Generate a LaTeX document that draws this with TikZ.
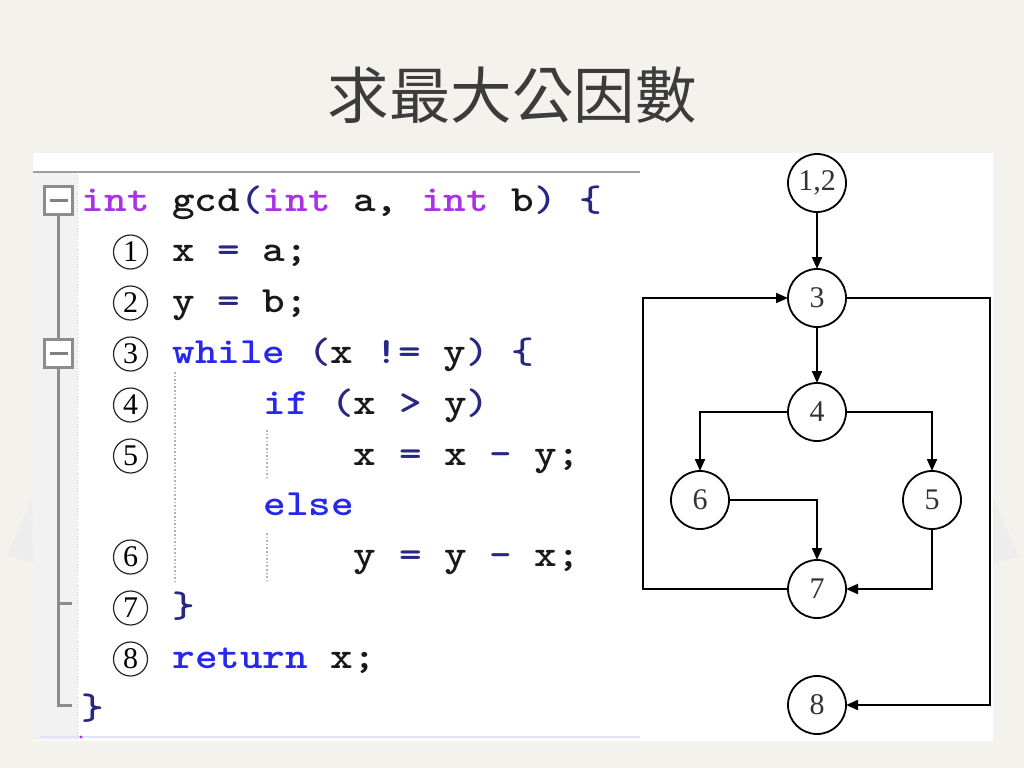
\documentclass[tikz,border=0pt]{standalone}
\usepackage{fontspec}
\newfontfamily\cjk{Noto Sans CJK TC}
\newfontfamily\numfont{Liberation Serif}
\newfontfamily\codefont{lmmonolt10-bold.otf}[FakeStretch=1.164]
\usetikzlibrary{arrows.meta, positioning}

\definecolor{bgcol}{RGB}{243,242,237}
\definecolor{guttercol}{RGB}{242,242,242}
\definecolor{kwblue}{RGB}{40,40,235}
\definecolor{typurple}{RGB}{170,50,230}
\definecolor{opnavy}{RGB}{40,40,130}
\definecolor{titlegray}{RGB}{60,60,60}
\definecolor{lavender}{RGB}{225,225,245}

\newcommand{\kw}[1]{\textcolor{kwblue}{#1}}
\newcommand{\ty}[1]{\textcolor{typurple}{#1}}
\newcommand{\op}[1]{\textcolor{opnavy}{#1}}

\begin{document}
\begin{tikzpicture}[x=1pt, y=-1pt, thick, >={Triangle[length=12pt,width=10pt]},
                    code/.style={anchor=base west, inner sep=0pt, text=black!90,
                                 font=\codefont\fontsize{37}{40}\selectfont},
                    numc/.style={circle, draw=black!85, line width=1.2pt, minimum size=34pt,
                                 inner sep=0pt, font=\numfont\fontsize{30}{30}\selectfont},
                    gnode/.style={circle, draw, line width=1.8pt, minimum size=58pt,
                                  inner sep=0pt, outer sep=0pt, text=black!80,
                                  font=\numfont\fontsize{30}{30}\selectfont},
                    foldbox/.style={rectangle, draw=black!45, line width=2.5pt, fill=white,
                                    minimum size=28pt, inner sep=0pt,
                                    path picture={\draw[line width=3pt, black!50]
                                      ([xshift=-9pt]path picture bounding box.center) --
                                      ([xshift=9pt]path picture bounding box.center);}},
                    foldline/.style={line width=3pt, black!45},
                    guide/.style={dotted, line width=1.6pt, gray!60},
                    flow/.style={->, line width=2pt}]

% Background
\useasboundingbox (0,0) rectangle (1024,768);
\fill[bgcol] (0,0) rectangle (1024,768);
\fill[black!7] (32,497) -- (7,556) -- (33,563) -- cycle;
\fill[black!7] (993,497) -- (1019,557) -- (993,563) -- cycle;
\fill[white] (33,153) rectangle (993,741);

% Title
\node (title) [anchor=base, font=\cjk\fontsize{61.5}{62}\selectfont, text=titlegray]
  at (512,118) {求最大公因數};

% Editor gutter
\fill[guttercol] (33,172) rectangle (77,740);
\draw[dotted, gray!40] (77,172) -- (77,740);
\draw[line width=2pt, gray!75] (33,172) -- (640,172);
\draw[line width=2pt, lavender] (40,737) -- (640,737);
\fill[typurple] (81,737) circle (1.6);

\node (fold1) [foldbox] at (58.5,200.5) {};
\node (fold2) [foldbox] at (58.5,353.5) {};
\coordinate (tick1) at (72,603);
\coordinate (tick2) at (72,705);
\draw[foldline] (fold1) -- (fold2);
\draw[foldline] (fold2) -- (58.5,705) -- (tick2);
\draw[foldline] (58.5,603) -- (tick1);

% Indent guides
\draw[guide] (175,372) -- (175,582);
\draw[guide] (267,430) -- (267,480);
\draw[guide] (267,533) -- (267,582);

% Code
\node (l1)  [code] at (81.5,211) {\ty{int} gcd\op{(}\ty{int} a, \ty{int} b\op{)} \op{\{}};
\node (l2)  [code] at (172,261) {x \op{=} a;};
\node (l3)  [code] at (172,312) {y \op{=} b;};
\node (l4)  [code] at (172,363) {\kw{while} \op{(}x \op{!=} y\op{)} \op{\{}};
\node (l5)  [code] at (263,414) {\kw{if} \op{(}x \op{>} y\op{)}};
\node (l6)  [code] at (353.5,465) {x \op{=} x \op{-} y;};
\node (l7)  [code] at (263,515) {\kw{else}};
\node (l8)  [code] at (353.5,566) {y \op{=} y \op{-} x;};
\node (l9)  [code] at (172,617) {\op{\}}};
\node (l10) [code] at (172,668) {\kw{return} x;};
\node (l11) [code] at (81.5,719) {\op{\}}};

% Statement numbers
\foreach \n/\y in {1/252, 2/303, 3/354, 4/405, 5/456, 6/557, 7/608, 8/659}
  \node (num\n) [numc] at (130.5,\y) {\n};

% Flow graph nodes
\node (n12) [gnode] at (817,183) {1,2};
\node (n3)  [gnode, below=57pt of n12] {3};
\node (n4)  [gnode, below=56pt of n3] {4};
\node (n6)  [gnode, below=30pt of n4, xshift=-117pt] {6};
\node (n5)  [gnode, below=30pt of n4, xshift=115pt] {5};
\node (n7)  [gnode, below=119pt of n4] {7};
\node (n8)  [gnode, below=58pt of n7] {8};
\coordinate (loopl) at ([xshift=-145pt]n7.west);
\coordinate (loopr) at ([xshift=144pt]n3.east);

% Flow graph edges
\draw[flow] (n12) -- (n3);
\draw[flow] (n3) -- (n4);
\draw[flow] (n4) -| (n6);
\draw[flow] (n4) -| (n5);
\draw[flow] (n6) -| (n7);
\draw[flow] (n5) |- (n7);
\draw[flow] (n7) -- (loopl) |- (n3);
\draw[flow] (n3) -- (loopr) |- (n8);

\end{tikzpicture}
\end{document}
